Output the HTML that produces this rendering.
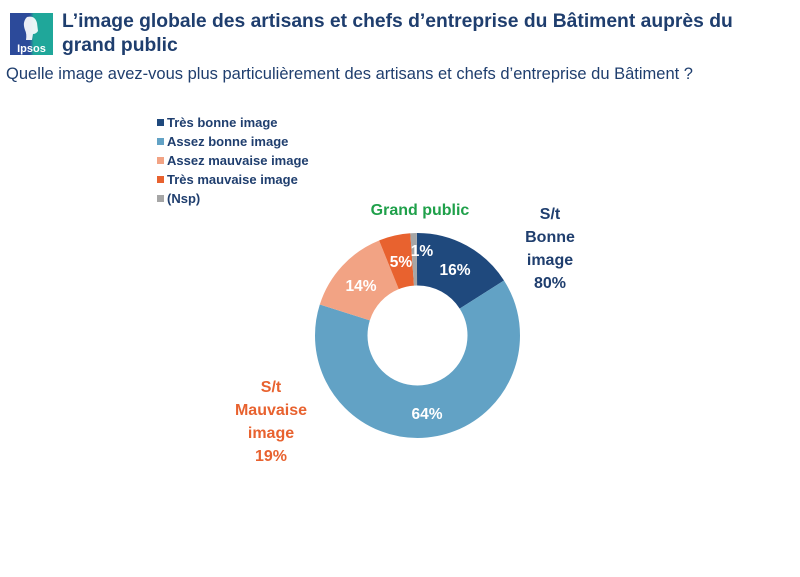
<!DOCTYPE html>
<html><head><meta charset="utf-8"><style>
body{margin:0;width:800px;height:577px;background:#fff;overflow:hidden;font-family:"Liberation Sans",sans-serif;}
</style></head><body>
<svg width="800" height="577" viewBox="0 0 800 577" xmlns="http://www.w3.org/2000/svg" style="position:absolute;left:0;top:0">
<defs><linearGradient id="lg" x1="0" x2="1"><stop offset="0.45" stop-color="#2c4a9a"/><stop offset="0.55" stop-color="#1fa79a"/></linearGradient></defs>
<rect x="10" y="13" width="43" height="42" fill="url(#lg)"/>
<path d="M27 17 q8 -2 10 6 l1 8 q-2 3 -5 3 l-1 6 h-6 q1 -6 -1 -10 q-3 -8 2 -13z" fill="#fff" opacity="0.9"/>
<text x="31.5" y="52" font-size="11" font-weight="bold" fill="#fff" text-anchor="middle">Ipsos</text>
<text x="62" y="27" font-size="19.3" font-weight="bold" fill="#1f3e6e">L’image globale des artisans et chefs d’entreprise du Bâtiment auprès du</text>
<text x="62" y="51" font-size="19.3" font-weight="bold" fill="#1f3e6e">grand public</text>
<text x="6" y="79" font-size="16.4" fill="#1f3e6e" textLength="687" lengthAdjust="spacingAndGlyphs">Quelle image avez-vous plus particulièrement des artisans et chefs d’entreprise du Bâtiment ?</text>
<g font-size="13" font-weight="bold" fill="#1f3e6e">
<rect x="157" y="119" width="7" height="7" fill="#1f497d"/><text x="167" y="127">Très bonne image</text>
<rect x="157" y="138" width="7" height="7" fill="#62a2c5"/><text x="167" y="146">Assez bonne image</text>
<rect x="157" y="157" width="7" height="7" fill="#f2a384"/><text x="167" y="165">Assez mauvaise image</text>
<rect x="157" y="176" width="7" height="7" fill="#e8622f"/><text x="167" y="184">Très mauvaise image</text>
<rect x="157" y="195" width="7" height="7" fill="#a6a6a6"/><text x="167" y="203">(Nsp)</text>
</g>
<g transform="rotate(-90 417.5 335.5)" fill="none" stroke-width="52.5">
<circle cx="417.5" cy="335.5" r="76.25" pathLength="100" stroke="#1f497d" stroke-dasharray="16 84" stroke-dashoffset="0"/>
<circle cx="417.5" cy="335.5" r="76.25" pathLength="100" stroke="#62a2c5" stroke-dasharray="64 36" stroke-dashoffset="-16"/>
<circle cx="417.5" cy="335.5" r="76.25" pathLength="100" stroke="#f2a384" stroke-dasharray="14 86" stroke-dashoffset="-80"/>
<circle cx="417.5" cy="335.5" r="76.25" pathLength="100" stroke="#e8622f" stroke-dasharray="5 95" stroke-dashoffset="-94"/>
<circle cx="417.5" cy="335.5" r="76.25" pathLength="100" stroke="#a6a6a6" stroke-dasharray="1 99" stroke-dashoffset="-99"/>
</g>
<g font-size="15.5" font-weight="bold" fill="#fff" text-anchor="middle">
<text x="455" y="275">16%</text>
<text x="427" y="419">64%</text>
<text x="361" y="291">14%</text>
<text x="401" y="267">5%</text>
<text x="422" y="256">1%</text>
</g>
<text x="420" y="215" font-size="16" font-weight="bold" fill="#1fa04a" text-anchor="middle">Grand public</text>
<g font-size="16" font-weight="bold" fill="#1f3e6e" text-anchor="middle">
<text x="550" y="219">S/t</text><text x="550" y="242">Bonne</text><text x="550" y="265">image</text><text x="550" y="288">80%</text>
</g>
<g font-size="16" font-weight="bold" fill="#e8622f" text-anchor="middle">
<text x="271" y="392">S/t</text><text x="271" y="415">Mauvaise</text><text x="271" y="438">image</text><text x="271" y="461">19%</text>
</g>
</svg>
</body></html>
